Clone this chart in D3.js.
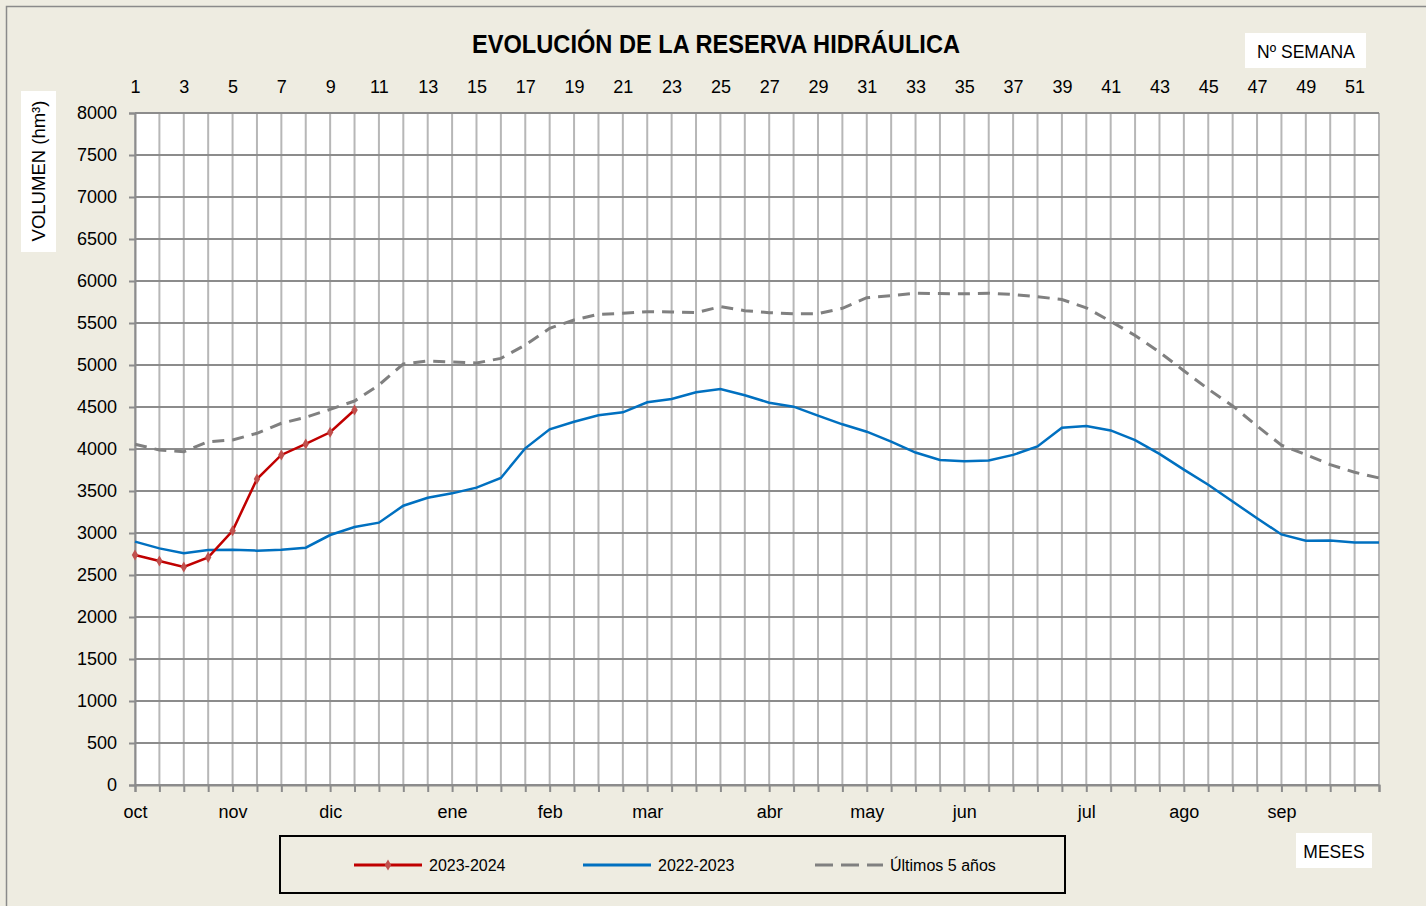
<!DOCTYPE html>
<html>
<head>
<meta charset="utf-8">
<script src="https://cdn.jsdelivr.net/npm/d3@7"></script>
<style>
  body { margin: 0; background: #EEECE1; }
  svg { display: block; font-family: "Liberation Sans", Arial, sans-serif; }
</style>
</head>
<body>
<div id="chart"></div>
<script>
var w = 1426;
var h = 906;

// week numbers (x) and the labelled ones on the top axis
var weeks = d3.range(1, 53);
var weekLabels = [1, 3, 5, 7, 9, 11, 13, 15, 17, 19, 21, 23, 25, 27, 29, 31, 33, 35, 37, 39, 41, 43, 45, 47, 49, 51];
var yTicks = [0, 500, 1000, 1500, 2000, 2500, 3000, 3500, 4000, 4500, 5000, 5500, 6000, 6500, 7000, 7500, 8000];

// month labels and the week where each one sits
var months = ["oct", "nov", "dic", "ene", "feb", "mar", "abr", "may", "jun", "jul", "ago", "sep"];
var monthWeeks = [1, 5, 9, 14, 18, 22, 27, 31, 35, 40, 44, 48];

// volumes in hm3, one per week
var serie2324 = [2738, 2667, 2595, 2710, 3027, 3643, 3929, 4060, 4199, 4464];
var serie2223 = [2897, 2817, 2758, 2798, 2802, 2790, 2802, 2825, 2976, 3071,
                 3123, 3325, 3420, 3472, 3540, 3655, 4008, 4234, 4325, 4401,
                 4437, 4556, 4595, 4675, 4714, 4639, 4551, 4504, 4397, 4294,
                 4206, 4087, 3958, 3870, 3853, 3862, 3930, 4030, 4253, 4274,
                 4221, 4106, 3942, 3754, 3574, 3375, 3175, 2983, 2907, 2911,
                 2887, 2887];
var serie5y = [4056, 3988, 3968, 4087, 4107, 4187, 4306, 4377, 4472, 4571,
               4762, 5012, 5048, 5036, 5024, 5079, 5238, 5437, 5536, 5603,
               5615, 5635, 5631, 5623, 5694, 5647, 5623, 5611, 5611, 5675,
               5801, 5825, 5855, 5851, 5847, 5855, 5839, 5812, 5780, 5680,
               5520, 5352, 5152, 4932, 4713, 4513, 4274, 4045, 3933, 3814,
               3723, 3655];

var seriesNames = ["2023-2024", "2022-2023", "Últimos 5 años"];

var svg = d3.select("#chart")
    .append("svg")
    .attr("width", w)
    .attr("height", h);

var margin = {top: 113, right: 47, bottom: 121, left: 135},
    width = w - margin.left - margin.right,
    height = h - margin.top - margin.bottom;

var x = d3.scaleLinear().domain([1, 52]).range([0, width]),
    y = d3.scaleLinear().domain([0, 8000]).range([height, 0]);

// outer frame of the chart area
svg.append("rect")
    .attr("x", 6.5).attr("y", 6.5)
    .attr("width", w).attr("height", h)
    .attr("fill", "#EEECE1")
    .attr("stroke", "#8a8a8a")
    .attr("stroke-width", 1.5);

svg.append("text")
    .attr("x", 716).attr("y", 53)
    .attr("text-anchor", "middle")
    .attr("font-weight", "bold")
    .attr("font-size", 25)
    .attr("textLength", 488)
    .attr("lengthAdjust", "spacingAndGlyphs")
    .text("EVOLUCIÓN DE LA RESERVA HIDRÁULICA");

var g = svg.append("g")
    .attr("transform", "translate(" + margin.left + "," + margin.top + ")");

g.append("rect")
    .attr("width", width).attr("height", height)
    .attr("fill", "#fff");

// vertical grid, one line per week
g.append("g").selectAll("line")
    .data(weeks)
    .enter().append("line")
      .attr("x1", function(d) { return x(d); })
      .attr("x2", function(d) { return x(d); })
      .attr("y1", 0).attr("y2", height)
      .attr("stroke", "#b7b7b7")
      .attr("stroke-width", 2);

// horizontal grid
g.append("g").selectAll("line")
    .data(yTicks)
    .enter().append("line")
      .attr("x1", 0).attr("x2", width)
      .attr("y1", function(d) { return y(d); })
      .attr("y2", function(d) { return y(d); })
      .attr("stroke", "#8c8c8c")
      .attr("stroke-width", 2);

// y axis
var yAxis = g.append("g")
    .call(d3.axisLeft(y).tickValues(yTicks).tickSize(6).tickPadding(12).tickFormat(d3.format("d")));
yAxis.selectAll("line").attr("stroke", "#8c8c8c").attr("stroke-width", 2);
yAxis.select(".domain").attr("stroke", "#8c8c8c").attr("stroke-width", 2);
yAxis.selectAll("text").attr("font-size", 18).attr("fill", "#000")
    .attr("font-family", "Liberation Sans, Arial, sans-serif");

// week numbers on top
var topAxis = g.append("g")
    .call(d3.axisTop(x).tickValues(weekLabels).tickSize(0).tickPadding(20));
topAxis.select(".domain").remove();
topAxis.selectAll("text").attr("font-size", 18).attr("fill", "#000")
    .attr("font-family", "Liberation Sans, Arial, sans-serif");

// bottom week ticks
var bottomAxis = g.append("g")
    .attr("transform", "translate(0," + height + ")")
    .call(d3.axisBottom(x).tickValues(weeks).tickSize(7).tickFormat(""));
bottomAxis.selectAll("line").attr("stroke", "#8c8c8c").attr("stroke-width", 2);
bottomAxis.select(".domain").attr("stroke", "#8c8c8c").attr("stroke-width", 2);

// month labels
var monthAxis = g.append("g")
    .attr("transform", "translate(0," + height + ")")
    .call(d3.axisBottom(x).tickValues(monthWeeks).tickSize(0).tickPadding(20)
      .tickFormat(function(d, i) { return months[i]; }));
monthAxis.select(".domain").remove();
monthAxis.selectAll("text").attr("font-size", 18).attr("fill", "#000")
    .attr("font-family", "Liberation Sans, Arial, sans-serif");

var line = d3.line()
    .x(function(d, i) { return x(i + 1); })
    .y(function(d) { return y(d); });

g.append("path")
    .datum(serie5y)
    .attr("fill", "none")
    .attr("stroke", "#808080")
    .attr("stroke-width", 3)
    .attr("stroke-dasharray", "12,8")
    .attr("d", line);

g.append("path")
    .datum(serie2223)
    .attr("fill", "none")
    .attr("stroke", "#0070C0")
    .attr("stroke-width", 2.5)
    .attr("d", line);

g.append("path")
    .datum(serie2324)
    .attr("fill", "none")
    .attr("stroke", "#C00000")
    .attr("stroke-width", 2.5)
    .attr("d", line);

var diamond = d3.symbol().type(d3.symbolDiamond).size(36);
g.selectAll(".marker")
    .data(serie2324)
    .enter().append("path")
      .attr("class", "marker")
      .attr("transform", function(d, i) { return "translate(" + x(i + 1) + "," + y(d) + ")"; })
      .attr("d", diamond)
      .attr("fill", "#C0504D");

// y axis title
svg.append("rect")
    .attr("x", 21).attr("y", 91).attr("width", 35).attr("height", 161)
    .attr("fill", "#fff");
svg.append("text")
    .attr("transform", "translate(45,171) rotate(-90)")
    .attr("text-anchor", "middle")
    .attr("font-size", 18.5)
    .text("VOLUMEN (hm³)");

// Nº SEMANA box
svg.append("rect")
    .attr("x", 1245).attr("y", 33).attr("width", 121).attr("height", 35)
    .attr("fill", "#fff");
svg.append("text")
    .attr("x", 1306).attr("y", 58)
    .attr("text-anchor", "middle")
    .attr("font-size", 17.5)
    .text("Nº SEMANA");

// MESES box
svg.append("rect")
    .attr("x", 1296).attr("y", 833).attr("width", 76).attr("height", 35)
    .attr("fill", "#fff");
svg.append("text")
    .attr("x", 1334).attr("y", 858)
    .attr("text-anchor", "middle")
    .attr("font-size", 17.5)
    .text("MESES");

// legend
var legend = svg.append("g");
legend.append("rect")
    .attr("x", 280).attr("y", 836).attr("width", 785).attr("height", 57)
    .attr("fill", "#EEECE1")
    .attr("stroke", "#000")
    .attr("stroke-width", 2);

var legendX = [354, 583, 815];
var legendColors = ["#C00000", "#0070C0", "#808080"];
var legendDash = [null, null, "18,8"];

seriesNames.forEach(function(name, i) {
  legend.append("line")
      .attr("x1", legendX[i]).attr("x2", legendX[i] + 68)
      .attr("y1", 865).attr("y2", 865)
      .attr("stroke", legendColors[i])
      .attr("stroke-width", 3)
      .attr("stroke-dasharray", legendDash[i]);
  legend.append("text")
      .attr("x", legendX[i] + 75).attr("y", 871)
      .attr("font-size", 16)
      .text(name);
});
legend.append("path")
    .attr("transform", "translate(388,865)")
    .attr("d", diamond)
    .attr("fill", "#C0504D");
</script>
</body>
</html>
